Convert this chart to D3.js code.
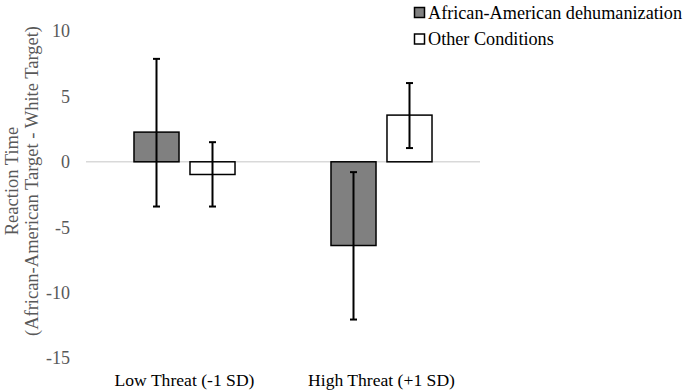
<!DOCTYPE html>
<html>
<head>
<meta charset="utf-8">
<script src="https://cdn.jsdelivr.net/npm/d3@7"></script>
<style>
  body { margin: 0; background: #fff; overflow: hidden; }
</style>
</head>
<body>
<div id="chart"></div>
<script>
// data
const categories = ["Low Threat (-1 SD)", "High Threat (+1 SD)"];
const seriesNames = ["African-American dehumanization", "Other Conditions"];
const seriesFill = ["#808080", "#ffffff"];
const meanValues = [[2.27, -6.4], [-0.97, 3.57]];
const errLow = [[-3.42, -12.06], [-3.42, 1.05]];
const errHigh = [[7.87, -0.79], [1.5, 6.02]];
const yTicks = [10, 5, 0, -5, -10, -15];

const width = 685, height = 392;
const font = "'Liberation Serif', 'Times New Roman', serif";

const svg = d3.select("#chart").append("svg")
  .attr("width", width).attr("height", height)
  .attr("font-family", font);

const y = d3.scaleLinear().domain([-15, 10]).range([358, 31]);
const x0 = d3.scaleBand().domain(categories).range([86, 480]);
const x1 = d3.scaleBand().domain(d3.range(seriesNames.length))
  .range([0, x0.bandwidth()]).paddingInner(0.196).paddingOuter(0.857);

// y axis labels (no line)
svg.append("g").selectAll("text").data(yTicks).join("text")
  .attr("x", 70).attr("y", d => y(d)).attr("dy", "0.35em")
  .attr("text-anchor", "end").attr("fill", "#595959").attr("font-size", 18)
  .text(d => d);

// zero line
svg.append("line").attr("x1", 86).attr("x2", 480)
  .attr("y1", y(0)).attr("y2", y(0))
  .attr("stroke", "#d9d9d9").attr("stroke-width", 1.5);

// bars
const rows = [];
seriesNames.forEach((s, i) => categories.forEach((c, j) => rows.push({
  s: i, c: c, v: meanValues[i][j], lo: errLow[i][j], hi: errHigh[i][j]
})));

svg.append("g").selectAll("rect").data(rows).join("rect")
  .attr("x", d => x0(d.c) + x1(d.s))
  .attr("width", x1.bandwidth())
  .attr("y", d => y(Math.max(0, d.v)))
  .attr("height", d => Math.abs(y(d.v) - y(0)))
  .attr("fill", d => seriesFill[d.s])
  .attr("stroke", "#000").attr("stroke-width", 1.5);

// error bars
const eb = svg.append("g").attr("stroke", "#000").attr("stroke-width", 2);
rows.forEach(d => {
  const cx = x0(d.c) + x1(d.s) + x1.bandwidth() / 2;
  eb.append("line").attr("x1", cx).attr("x2", cx).attr("y1", y(d.hi)).attr("y2", y(d.lo));
  [d.hi, d.lo].forEach(v => eb.append("line")
    .attr("x1", cx - 3.5).attr("x2", cx + 3.5).attr("y1", y(v)).attr("y2", y(v)));
});

// category labels
svg.append("g").selectAll("text").data(categories).join("text")
  .attr("x", d => x0(d) + x0.bandwidth() / 2).attr("y", 386)
  .attr("text-anchor", "middle").attr("font-size", 17.6).attr("fill", "#000")
  .text(d => d);

// y axis title
const yt = svg.append("text").attr("transform", "translate(0,181) rotate(-90)")
  .attr("text-anchor", "middle").attr("font-size", 18.5).attr("fill", "#595959");
yt.append("tspan").attr("x", 0).attr("y", 18).text("Reaction Time");
yt.append("tspan").attr("x", 0).attr("y", 38).text("(African-American Target - White Target)");

// legend
const lg = svg.append("g").attr("transform", "translate(414.5,0)");
seriesNames.forEach((s, i) => {
  const g = lg.append("g").attr("transform", `translate(0,${12.5 + i * 26.5})`);
  g.append("rect").attr("x", 0).attr("y", -5).attr("width", 10).attr("height", 10)
    .attr("fill", seriesFill[i]).attr("stroke", "#000").attr("stroke-width", 1.5);
  g.append("text").attr("x", 13.5).attr("dy", "0.35em").attr("font-size", 18.2)
    .attr("fill", "#000").text(s);
});
</script>
</body>
</html>
